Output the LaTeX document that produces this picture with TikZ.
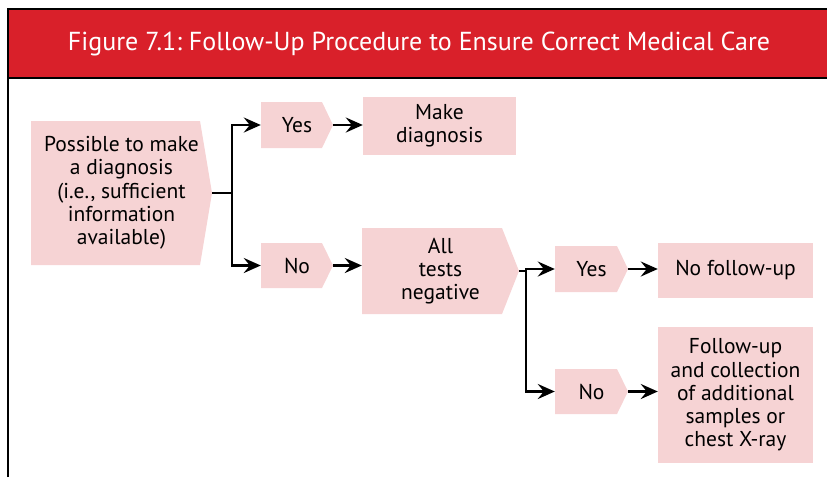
\documentclass[tikz,border=0pt]{standalone}
\usepackage{fontspec}
\setmainfont{PT Sans}
\usetikzlibrary{arrows.meta}
\definecolor{hdrred}{HTML}{D9202A}
\definecolor{boxpink}{HTML}{F6D3D4}
\begin{document}
\begin{tikzpicture}[x=1pt,y=-1pt,
  lbl/.style={font=\fontsize{21.5}{23.3}\selectfont, align=center, text=black, inner sep=0pt, rectangle},
  pbox/.style={lbl, fill=boxpink, draw=none},
  sbox/.style={lbl, draw=none, path picture={\fill[boxpink] (path picture bounding box.north west) -- ([xshift=-#1]path picture bounding box.north east) -- (path picture bounding box.east) -- ([xshift=-#1]path picture bounding box.south east) -- (path picture bounding box.south west) -- cycle;}},
  conn/.style={line width=2.6pt, draw=black},
  arr/.style={conn, -{Stealth[length=17pt,width=15pt,inset=6pt]}},
]
\useasboundingbox (0,0) rectangle (827,477);
\clip (0,0) rectangle (827,477);
% frame and header
\fill[hdrred] (8,9) rectangle (830,78);
\draw[line width=2.6pt] (8,477) -- (8,9) -- (830,9);
\draw[line width=2.6pt] (8,78) -- (830,78);
\node[anchor=base, text=white, font=\fontsize{26}{30}\selectfont, inner sep=0pt] (title) at (419,50) {Figure 7.1:\ Follow-Up Procedure to Ensure Correct Medical Care};
% nodes
\node[sbox=12pt, minimum width=181pt, minimum height=144pt] (start) at (121.5,193) {Possible to make\\a diagnosis\\(i.e., sufficient\\information\\available)};
\node[sbox=11pt, minimum width=72pt, minimum height=46pt] (yes1) at (297,125) {Yes};
\node[pbox, minimum width=153pt, minimum height=58pt] (make) at (439.5,126) {Make\\diagnosis};
\node[sbox=11pt, minimum width=72pt, minimum height=45pt] (no1) at (297,265.5) {No};
\node[sbox=17pt, minimum width=157pt, minimum height=86pt] (all) at (440.5,271) {All\\tests\\negative};
\node[sbox=11pt, minimum width=73pt, minimum height=46pt] (yes2) at (591.5,269) {Yes};
\node[pbox, minimum width=155pt, minimum height=55pt] (nofu) at (735.5,270.5) {No follow-up};
\node[sbox=11pt, minimum width=73pt, minimum height=45pt] (no2) at (591.5,391.5) {No};
\node[pbox, minimum width=155pt, minimum height=136pt] (fu) at (735.5,395) {Follow-up\\and collection\\of additional\\samples or\\chest X-ray};
% connectors
\coordinate (b1) at (232,193);
\coordinate (b2) at (526,271);
\draw[conn] (start.east) -- (b1);
\draw[arr] (b1) |- (yes1.west);
\draw[arr] (b1) |- (no1.west);
\draw[arr] (yes1.east) -- (make.west |- yes1.east);
\draw[arr] (no1.east) -- (no1.east -| all.west);
\draw[conn] (all.east) -- (b2);
\draw[arr] (b2) |- (yes2.west);
\draw[arr] (b2) |- (no2.west);
\draw[arr] (yes2.east) -- (nofu.west |- yes2.east);
\draw[arr] (no2.east) -- (fu.west |- no2.east);
\end{tikzpicture}
\end{document}
